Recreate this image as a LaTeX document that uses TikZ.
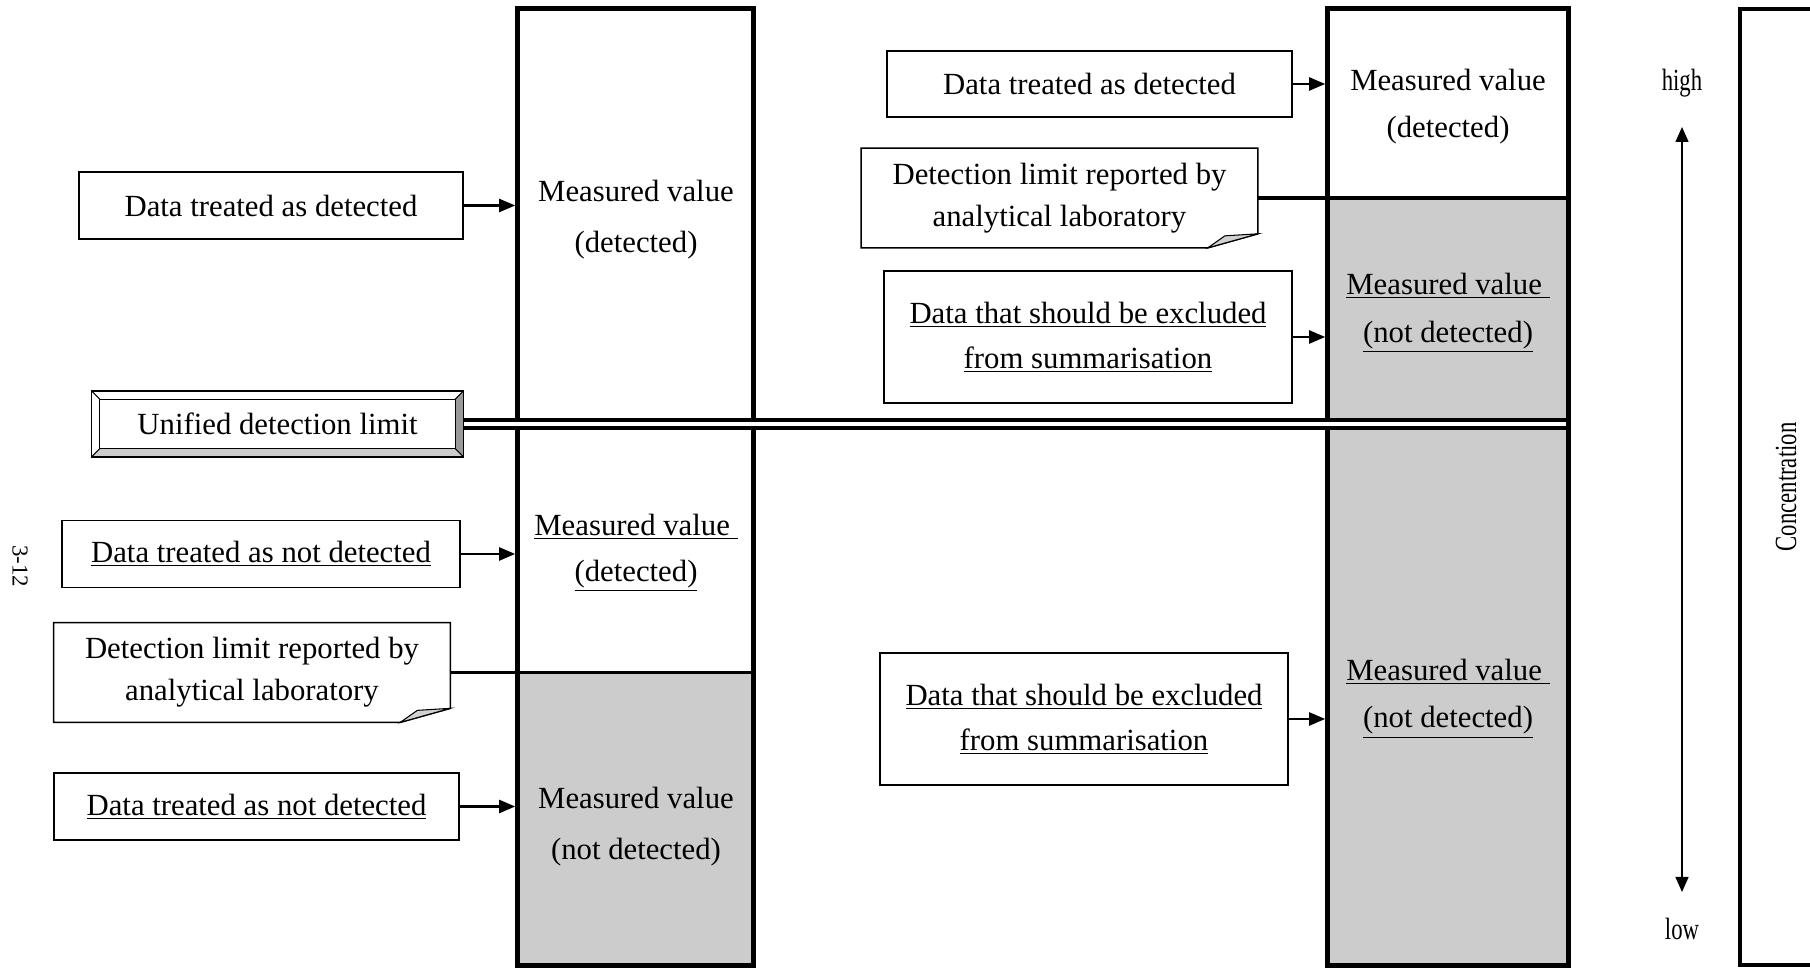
\documentclass[tikz,border=0pt]{standalone}
\usepackage{fontspec}
\setmainfont{Liberation Serif}
\usetikzlibrary{arrows.meta}
\definecolor{ndgray}{gray}{0.8}
\definecolor{flap}{gray}{0.82}
\definecolor{bevdark}{gray}{0.6}
\definecolor{bevlight}{gray}{0.8}

\begin{document}
\begin{tikzpicture}[
  txt/.style={font=\fontsize{17.5}{21}\selectfont, align=center},
  small/.style={font=\fontsize{13}{15}\selectfont},
  col/.style={inner sep=0pt, minimum height=19.12cm},
  colline/.style={line width=2.8pt},
  tbox/.style={txt, draw, line width=0.9pt, minimum height=1.34cm, fill=white},
  callout/.style={txt, minimum width=7.92cm, minimum height=1.98cm},
  arr/.style={line width=1.3pt, -{Triangle[length=0.32cm,width=0.26cm]}, shorten >=1.4pt},
  limline/.style={line width=2.2pt},
]
\useasboundingbox (0,0) rectangle (36.2,19.38);
% columns and callouts
\node[col, minimum width=4.7cm] (lcol) at (12.71,9.64) {};
\node[col, minimum width=4.8cm] (rcol) at (28.96,9.64) {};
\node[callout] (dlL) at (5.04,5.93) {Detection limit reported by\\[2.8pt]analytical laboratory};
\node[callout] (dlR) at (21.19,15.42) {Detection limit reported by\\[2.8pt]analytical laboratory};
\fill[ndgray] (lcol.south west) rectangle (dlL.east -| lcol.east); % not detected part
\fill[ndgray] (rcol.south west) rectangle (dlR.east -| rcol.east);
\draw[colline] (lcol.south west) rectangle (lcol.north east);
\draw[colline] (rcol.south west) rectangle (rcol.north east);
\draw[colline] (34.8,0.08) rectangle (36.6,19.2); % concentration box
\draw[limline] (dlL.east) -- (dlL.east -| lcol.east);
\draw[limline] (dlR.east) -- (dlR.east -| rcol.east);
\foreach \n in {dlL,dlR} {
  \draw[line width=0.9pt] (\n.north west) -- (\n.north east) -- ([yshift=0.28cm]\n.south east)
    -- ([xshift=-1cm]\n.south east) -- (\n.south west) -- cycle;
  \filldraw[fill=flap, line width=0.6pt] ([xshift=-1cm]\n.south east)
    -- ([xshift=-0.66cm,yshift=0.24cm]\n.south east) -- ([yshift=0.28cm]\n.south east) -- cycle;
}
% unified detection limit
\node[txt, minimum width=7.42cm, minimum height=1.3cm, inner sep=0pt] (udl) at (5.55,10.9) {Unified detection limit};
\draw[limline, double, double distance=2.4pt, shorten >=1.4pt] (udl.east) -- (udl.east -| rcol.east);
\fill[bevdark] (udl.north east) -- (udl.south east) -- ([shift={(-0.16,0.16)}]udl.south east)
  -- ([shift={(-0.16,-0.16)}]udl.north east) -- cycle;
\fill[bevlight] (udl.south west) -- (udl.south east) -- ([shift={(-0.16,0.16)}]udl.south east)
  -- ([shift={(0.16,0.16)}]udl.south west) -- cycle;
\draw[line width=0.9pt] (udl.south west) rectangle (udl.north east);
\draw[line width=0.6pt] ([shift={(0.16,0.16)}]udl.south west) rectangle ([shift={(-0.16,-0.16)}]udl.north east);
\draw[line width=0.6pt] (udl.south west) -- ++(0.16,0.16);
\draw[line width=0.6pt] (udl.north west) -- ++(0.16,-0.16);
\draw[line width=0.6pt] (udl.south east) -- ++(-0.16,0.16);
\draw[line width=0.6pt] (udl.north east) -- ++(-0.16,-0.16);
% data boxes
\node[tbox, minimum width=7.68cm] (detL) at (5.42,15.27) {Data treated as detected};
\node[tbox, minimum width=7.96cm] (ndA) at (5.22,8.3) {\underline{Data treated as not detected}};
\node[tbox, minimum width=8.1cm] (ndB) at (5.13,3.25) {\underline{Data treated as not detected}};
\node[tbox, minimum width=8.1cm, minimum height=1.32cm] (detR) at (21.79,17.7) {Data treated as detected};
\node[tbox, minimum width=8.16cm, minimum height=2.64cm] (excA) at (21.76,12.64) {\underline{Data that should be excluded}\\[4.5pt]\underline{from summarisation}};
\node[tbox, minimum width=8.16cm, minimum height=2.64cm] (excB) at (21.68,5.0) {\underline{Data that should be excluded}\\[4.5pt]\underline{from summarisation}};
\draw[arr] (detL.east) -- (detL.east -| lcol.west);
\draw[arr] (ndA.east) -- (ndA.east -| lcol.west);
\draw[arr] (ndB.east) -- (ndB.east -| lcol.west);
\draw[arr] (detR.east) -- (detR.east -| rcol.west);
\draw[arr] (excA.east) -- (excA.east -| rcol.west);
\draw[arr] (excB.east) -- (excB.east -| rcol.west);
% measured values
\node[txt] (valLa) at (12.72,14.98) {Measured value\\[8pt](detected)};
\node[txt] (valLb) at (12.72,8.32) {\underline{Measured value\ }\\[5pt]\underline{(detected)}};
\node[txt] (valLc) at (12.72,2.84) {Measured value\\[8pt](not detected)};
\node[txt] (valRa) at (28.96,17.25) {Measured value\\[6pt](detected)};
\node[txt] (valRb) at (28.96,13.12) {\underline{Measured value\ }\\[6pt]\underline{(not detected)}};
\node[txt] (valRc) at (28.96,5.41) {\underline{Measured value\ }\\[6pt]\underline{(not detected)}};
% concentration axis
\node[txt] (high) at (33.64,17.72) {\scalebox{0.74}[1]{high}};
\node[txt] (low) at (33.64,0.8) {\scalebox{0.74}[1]{low}};
\coordinate (ctop) at (33.64,16.84);
\coordinate (cbot) at (33.64,1.54);
\draw[line width=0.8pt, {Triangle[length=0.3cm,width=0.26cm]}-{Triangle[length=0.3cm,width=0.26cm]}] (ctop) -- (cbot);
\node[txt, rotate=90] (conc) at (35.72,9.64) {\scalebox{0.74}[1]{Concentration}};
\node[small, rotate=-90] (page) at (0.4,8.06) {3-12};
\end{tikzpicture}
\end{document}
